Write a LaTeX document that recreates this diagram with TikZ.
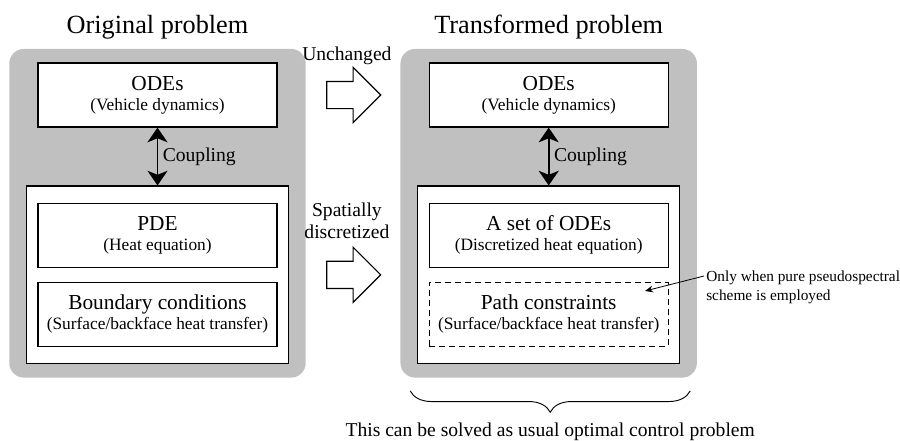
\documentclass[tikz,border=0pt]{standalone}
\usepackage{fontspec}
\setmainfont{Liberation Serif}
\usetikzlibrary{arrows.meta, positioning, shapes.arrows, fit, backgrounds, calc, decorations.pathreplacing}
\definecolor{panelgray}{HTML}{C0C0C0}
\pgfdeclarelayer{backdrop}
\pgfsetlayers{backdrop,background,main}
\newcommand{\mainsz}{\fontsize{16}{15}\selectfont}
\newcommand{\subsz}{\fontsize{13}{15}\selectfont}

\begin{document}
\begin{tikzpicture}[
    x=0.75pt, y=-0.75pt,
    box/.style={draw, line width=0.9pt, fill=white, minimum width=179.25pt,
                minimum height=48pt, inner sep=0pt, align=center, font=\mainsz},
    optbox/.style={box, dash pattern=on 4.5pt off 3pt},
    group/.style={draw, line width=0.9pt, fill=white, inner xsep=8.25pt, inner ysep=12.4pt},
    panel/.style={fill=panelgray, rounded corners=11pt, inner xsep=12.4pt, inner ysep=10.1pt},
    title/.style={font=\fontsize{19.7}{22}\selectfont},
    couple/.style={<->, >={Stealth[length=11pt, width=15pt, inset=3pt]}, line width=1.3pt},
    blockarr/.style={single arrow, draw, line width=0.9pt, fill=white, anchor=tail,
                     inner xsep=0pt, inner ysep=9.75pt, minimum height=40.5pt,
                     single arrow head extend=10.5pt},
    lbl/.style={font=\fontsize{14.7}{16.5}\selectfont, align=center},
    note/.style={font=\fontsize{11.5}{14.25}\selectfont, align=left, inner sep=0pt},
    brace/.style={decorate, decoration={brace, mirror, amplitude=16pt}, line width=0.7pt},
  ]
    \useasboundingbox (0,0) rectangle (900,440);

    % original problem
    \node[box] (odesL) at (157.5,95) {ODEs\\{\subsz (Vehicle dynamics)}};
    \node[box, below=56.25pt of odesL] (pdeL) {PDE\\{\subsz (Heat equation)}};
    \node[box, below=10.5pt of pdeL] (bcL)
      {Boundary conditions\\{\subsz (Surface/backface heat transfer)}};

    % transformed problem
    \node[box, right=113.25pt of odesL] (odesR) {ODEs\\{\subsz (Vehicle dynamics)}};
    \node[box, below=56.25pt of odesR] (setR) {A set of ODEs\\{\subsz (Discretized heat equation)}};
    \node[optbox, below=10.5pt of setR] (pathR)
      {Path constraints\\{\subsz (Surface/backface heat transfer)}};

    \begin{scope}[on background layer]
      \node[group, fit=(pdeL)(bcL)] (lowL) {};
      \node[group, fit=(setR)(pathR)] (lowR) {};
    \end{scope}
    \begin{pgfonlayer}{backdrop}
      \node[panel, fit=(odesL)(lowL)] (panelL) {};
      \node[panel, fit=(odesR)(lowR)] (panelR) {};
    \end{pgfonlayer}

    \node[title, above=3.5pt of panelL] (titleL) {Original problem};
    \node[title, above=3.5pt of panelR] (titleR) {Transformed problem};

    \draw[couple] (odesL.south) -- (lowL.north) node[midway, right, lbl] {Coupling};
    \draw[couple] (odesR.south) -- (lowR.north) node[midway, right, lbl] {Coupling};

    % block arrows between the two panels
    \coordinate (gap) at ($(panelL.east)!0.5!(panelR.west)$);
    \node[blockarr] (keepArr) at ($(gap |- odesL)+(-27,0)$) {};
    \node[blockarr] (discArr) at ($(gap |- lowL)+(-27,0)$) {};
    \node[lbl, above=8.5pt of keepArr] (keepTxt) {Unchanged};
    \node[lbl, above=13pt of discArr] (discTxt) {Spatially\\discretized};

    % brace under the transformed problem
    \coordinate (braceL) at ($(panelR.south west)+(10,13)$);
    \coordinate (braceR) at ($(panelR.south east)+(-7,13)$);
    \draw[brace] (braceL) -- (braceR);
    \node[lbl] (solveTxt) at ($(braceL)!0.5!(braceR)+(0,41)$)
      {This can be solved as usual optimal control problem};

    \node[note, anchor=north west] (note) at (706,271)
      {Only when pure pseudospectral\\scheme is employed};
    \coordinate (noteTip) at (645,291);
    \draw[-{Stealth[length=6pt, width=5pt]}, line width=0.6pt]
      ($(note.north west)+(-2,5)$) -- (noteTip);
  \end{tikzpicture}
\end{document}
